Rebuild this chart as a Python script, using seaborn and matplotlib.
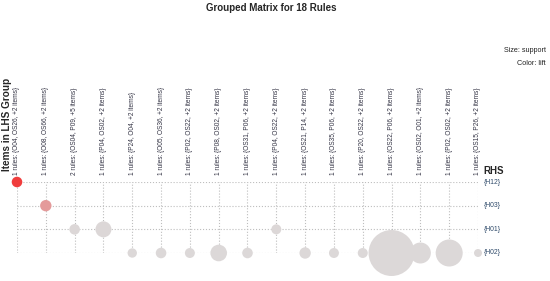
import numpy as np
import pandas as pd
import matplotlib
matplotlib.use("Agg")
import matplotlib.pyplot as plt
from matplotlib.colors import LinearSegmentedColormap
import seaborn as sns

# ---- data ----
lhs_groups = [
    "1 rules: {O04, OS26, +2 items}",
    "1 rules: {O08, OS66, +2 items}",
    "2 rules: {OS04, P09, +5 items}",
    "1 rules: {P04, OS02, +2 items}",
    "1 rules: {P24, O04, +2 items}",
    "1 rules: {O05, OS36, +2 items}",
    "1 rules: {P02, OS22, +2 items}",
    "1 rules: {P08, OS02, +2 items}",
    "1 rules: {OS31, P06, +2 items}",
    "1 rules: {P04, OS22, +2 items}",
    "1 rules: {OS21, P14, +2 items}",
    "1 rules: {OS35, P06, +2 items}",
    "1 rules: {P20, OS22, +2 items}",
    "1 rules: {OS22, P06, +2 items}",
    "1 rules: {OS02, O01, +2 items}",
    "1 rules: {P02, OS02, +2 items}",
    "1 rules: {OS15, P26, +2 items}",
]
rhs_items = ["{H12}", "{H03}", "{H01}", "{H02}"]  # top to bottom
rule_rhs = ["{H12}", "{H03}", "{H01}", "{H01}", "{H02}", "{H02}", "{H02}",
            "{H02}", "{H02}", "{H01}", "{H02}", "{H02}", "{H02}", "{H02}",
            "{H02}", "{H02}", "{H02}"]
support = [0.0056, 0.0065, 0.0056, 0.0128, 0.0044, 0.0056, 0.0050, 0.0138,
           0.0056, 0.0050, 0.0065, 0.0050, 0.0050, 0.1058, 0.0220, 0.0365,
           0.0032]
lift = [10.0, 4.6, 1.1, 1.1, 1.0, 1.0, 1.0, 1.0, 1.0, 1.1, 1.0, 1.0, 1.0,
        1.0, 1.0, 1.0, 1.0]

df = pd.DataFrame({
    "lhs": np.arange(len(lhs_groups)),
    "rhs": [len(rhs_items) - 1 - rhs_items.index(r) for r in rule_rhs],
    "support": support,
    "lift": lift,
})

sns.set_theme(style="white")
plt.rcParams["font.family"] = ["Liberation Sans", "DejaVu Sans"]

fig = plt.figure(figsize=(5.5, 2.81), dpi=100)
ax = fig.add_axes([17 / 550, 1 - 253 / 281, (478 - 17) / 550, (253 - 182) / 281])

cmap = LinearSegmentedColormap.from_list("lift", ["#DCD8D8", "#F03C3C"])
sns.scatterplot(data=df, x="lhs", y="rhs", size="support", hue="lift",
                sizes=(33, 1097), palette=cmap, hue_norm=(1.0, 10.0),
                linewidth=0, legend=False, ax=ax, zorder=3)
for coll in ax.collections:
    coll.set_clip_on(False)

ax.set_xlim(0, len(lhs_groups) - 1)
ax.set_ylim(0, len(rhs_items) - 1)
ax.set_xticks(range(len(lhs_groups)))
ax.set_yticks(range(len(rhs_items)))
ax.grid(True, color="#BEBEBE", linestyle=":", linewidth=0.8)
ax.tick_params(left=False, bottom=False, labelleft=False, labelbottom=False)
for s in ax.spines.values():
    s.set_visible(False)
ax.set_xlabel("")
ax.set_ylabel("")

# column labels above the matrix
for i, lab in enumerate(lhs_groups):
    ax.annotate(lab, xy=(i, len(rhs_items) - 1), xytext=(0, 5),
                textcoords="offset points", rotation=90, ha="center",
                va="bottom", fontsize=4.7, color="#333344",
                annotation_clip=False)

# row labels at the right
for j, lab in enumerate(rhs_items):
    ax.annotate(lab, xy=(len(lhs_groups) - 1, len(rhs_items) - 1 - j),
                xytext=(4, 0), textcoords="offset points", ha="left",
                va="center", fontsize=4.9, color="#2F4A6A",
                annotation_clip=False)

fig.text(483 / 550, 1 - 171 / 281, "RHS", fontsize=7, fontweight="bold",
         ha="left", va="center")
fig.text(7 / 550, 1 - 171 / 281, "Items in LHS Group", fontsize=7.2,
         fontweight="bold", rotation=90, ha="center", va="bottom")
fig.text(271 / 550, 1 - 8 / 281, "Grouped Matrix for 18 Rules", fontsize=7,
         fontweight="bold", ha="center", va="center")
fig.text(546 / 550, 1 - 51 / 281, "Size: support", fontsize=5.2,
         ha="right", va="center", color="#222222")
fig.text(546 / 550, 1 - 64 / 281, "Color: lift", fontsize=5.2,
         ha="right", va="center", color="#222222")

fig.savefig("out.png", dpi=100)
